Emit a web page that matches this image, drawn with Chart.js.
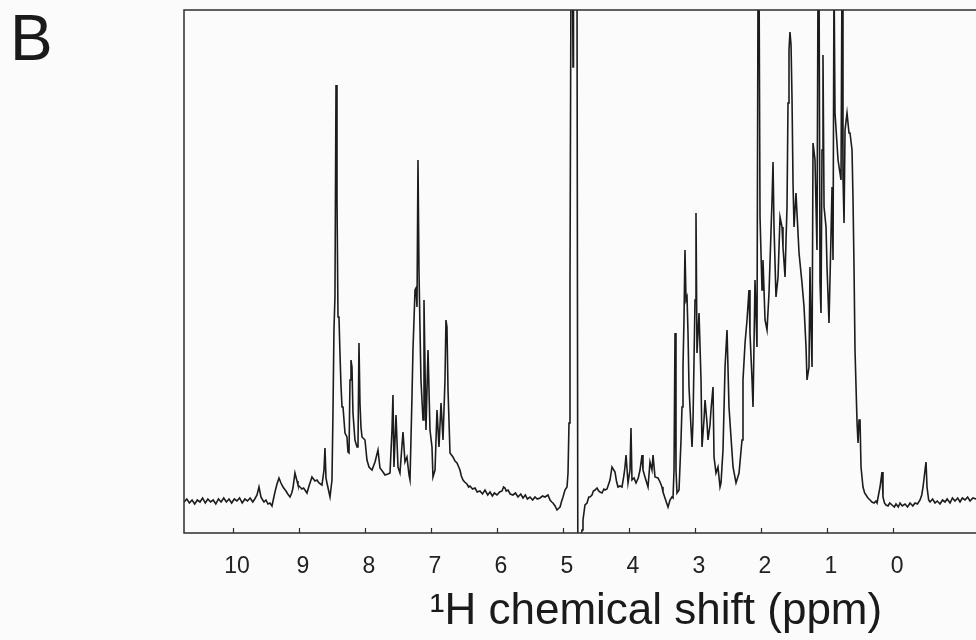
<!DOCTYPE html>
<html>
<head>
<meta charset="utf-8">
<script src="https://cdn.jsdelivr.net/npm/chart.js@4/dist/chart.umd.min.js"></script>
<style>
  html, body { margin:0; padding:0; background:#fbfbfb; overflow:hidden; }
  #wrap { position:relative; width:976px; height:640px; overflow:hidden; background:#fbfbfb; }
  #panel { position:absolute; left:10px; top:6px; font-family:"Liberation Sans", Arial, sans-serif; font-size:64px; line-height:64px; color:#1a1a1a; }
  canvas { position:absolute; left:0; top:0; }
</style>
</head>
<body>
<div id="wrap">
  <canvas id="c" width="1130" height="640"></canvas>
  <div id="panel">B</div>
</div>
<script>
// ppm, intensity (a.u.)
const downfield = [[10.74,31],[10.70,34],[10.66,30],[10.62,33],[10.58,29],[10.54,33],[10.50,31],[10.46,35],[10.42,30],[10.38,34],[10.34,31],[10.30,33],[10.26,29],[10.22,34],[10.18,31],[10.14,35],[10.10,31],[10.06,34],[10.02,30],[9.98,34],[9.94,32],[9.90,35],[9.86,30],[9.82,34],[9.78,32],[9.74,35],[9.70,31],[9.67,34],[9.636,38],[9.606,46],[9.576,36],[9.55,33],[9.53,31],[9.50,33],[9.47,29],[9.44,30],[9.409,27],[9.364,41],[9.333,49],[9.303,55],[9.273,50],[9.242,46],[9.22,44],[9.197,42],[9.17,39],[9.136,36],[9.11,40],[9.091,45],[9.061,60],[9.030,52],[9.015,48],[8.985,46],[8.955,44],[8.93,45],[8.909,43],[8.879,40],[8.848,47],[8.803,56],[8.758,52],[8.727,53],[8.697,50],[8.652,48],[8.621,63],[8.606,85],[8.591,55],[8.576,50],[8.530,36],[8.500,53]];
const aromatic = [[8.485,120],[8.470,203],[8.455,236],[8.439,448],[8.424,333],[8.409,216],[8.394,216],[8.379,180],[8.364,148],[8.348,126],[8.333,126],[8.303,100],[8.273,96],[8.258,81],[8.242,80],[8.227,153],[8.212,173],[8.197,166],[8.182,120],[8.152,93],[8.121,86],[8.106,86],[8.091,190],[8.076,130],[8.061,106],[8.045,96],[8.000,93],[7.970,73],[7.939,66],[7.894,63],[7.848,71],[7.803,83],[7.773,65],[7.727,61],[7.697,58],[7.652,59],[7.621,60],[7.591,103],[7.576,138],[7.561,66],[7.530,118],[7.500,66],[7.470,60],[7.439,88],[7.424,101],[7.394,71],[7.364,76],[7.333,58],[7.318,53],[7.288,136],[7.273,183],[7.242,243],[7.227,245],[7.212,226],[7.197,373],[7.182,263],[7.167,206],[7.152,153],[7.121,113],[7.106,233],[7.076,103],[7.045,183],[7.015,103],[6.985,86],[6.970,56],[6.939,63],[6.909,123],[6.879,86],[6.848,130],[6.818,93],[6.788,153],[6.773,213],[6.758,206],[6.742,143],[6.712,80],[6.667,76],[6.636,72],[6.606,70],[6.58,66],[6.561,63],[6.54,57],[6.515,53],[6.49,51],[6.455,49],[6.43,46],[6.409,47],[6.37,44],[6.333,45],[6.30,41],[6.258,42],[6.22,39],[6.182,43],[6.14,38],[6.106,41],[6.07,37],[6.04,40]];
const waterRegion = [[6.000,38],[5.96,41],[5.924,42],[5.90,46],[5.879,45],[5.86,42],[5.833,43],[5.80,39],[5.758,38],[5.72,40],[5.682,36],[5.64,39],[5.606,35],[5.57,38],[5.54,34],[5.500,36],[5.46,33],[5.424,36],[5.39,34],[5.348,35],[5.31,37],[5.273,36],[5.227,38],[5.197,33],[5.17,31],[5.152,30],[5.12,27],[5.091,23],[5.06,25],[5.045,26],[5.02,32],[5.000,36],[4.970,43],[4.939,46],[4.924,60],[4.909,110],[4.894,250],[4.879,560],[4.856,560],[4.848,466],[4.841,560],[4.788,560],[4.775,-40],[4.742,-12],[4.712,3],[4.697,13]];
const alphaRegion = [[4.667,28],[4.636,30],[4.61,36],[4.591,36],[4.561,38],[4.54,42],[4.515,43],[4.485,45],[4.46,42],[4.439,41],[4.409,40],[4.38,44],[4.364,43],[4.333,44],[4.288,53],[4.258,66],[4.212,61],[4.19,52],[4.167,46],[4.136,47],[4.106,46],[4.076,58],[4.061,66],[4.045,78],[4.015,50],[3.985,63],[3.970,105],[3.955,53],[3.924,55],[3.894,50],[3.86,55],[3.833,63],[3.803,78],[3.788,63],[3.758,56],[3.712,46],[3.682,71],[3.652,63],[3.636,78],[3.606,56],[3.561,55],[3.530,51],[3.50,46],[3.485,41],[3.455,35],[3.43,30],[3.409,26],[3.379,33],[3.35,36],[3.333,35]];
const betaRegion = [[3.318,63],[3.303,200],[3.288,63],[3.273,40],[3.242,43],[3.212,93],[3.197,126],[3.182,166],[3.167,213],[3.152,283],[3.136,233],[3.121,236],[3.106,200],[3.091,146],[3.061,106],[3.045,86],[3.030,113],[3.015,173],[3.000,233],[2.985,320],[2.970,180],[2.939,220],[2.909,153],[2.894,86],[2.864,113],[2.848,133],[2.818,110],[2.803,93],[2.773,108],[2.758,123],[2.727,146],[2.712,76],[2.682,60],[2.652,66],[2.621,46],[2.606,50],[2.576,83],[2.545,166],[2.515,203],[2.485,126],[2.455,96],[2.424,66],[2.379,50],[2.333,60],[2.288,93],[2.273,153],[2.242,190],[2.212,213],[2.182,243],[2.167,200],[2.136,153],[2.121,126],[2.091,253],[2.061,186]];
const aliphatic = [[2.045,560],[2.030,560],[2.015,316],[1.985,243],[1.970,273],[1.939,213],[1.909,203],[1.879,240],[1.848,303],[1.833,333],[1.818,371],[1.803,306],[1.773,236],[1.742,256],[1.712,316],[1.682,306],[1.667,286],[1.636,256],[1.621,293],[1.606,326],[1.591,430],[1.576,483],[1.561,501],[1.545,488],[1.530,433],[1.515,350],[1.500,306],[1.470,340],[1.455,320],[1.424,280],[1.379,250],[1.348,226],[1.318,186],[1.303,153],[1.273,166],[1.258,266],[1.242,203],[1.227,166],[1.212,390],[1.182,373],[1.152,283],[1.136,560],[1.121,560],[1.106,250],[1.091,220],[1.076,383],[1.061,478],[1.045,326],[1.015,306],[1.000,266],[0.970,210],[0.939,300],[0.924,346],[0.909,273],[0.894,560],[0.879,420],[0.833,373],[0.788,353],[0.773,560],[0.758,356],[0.742,310],[0.727,403],[0.697,420],[0.667,400],[0.652,400],[0.621,383],[0.606,333],[0.591,266],[0.576,183],[0.545,110],[0.530,90],[0.515,113],[0.500,113],[0.485,66],[0.455,46]];
const upfield = [[0.43,40],[0.409,38],[0.38,35],[0.348,33],[0.32,31],[0.288,30],[0.26,32],[0.242,30],[0.22,38],[0.197,46],[0.167,61],[0.152,36],[0.13,30],[0.106,28],[0.076,27],[0.05,30],[0.015,28],[-0.02,26],[-0.045,29],[-0.08,26],[-0.106,30],[-0.14,27],[-0.182,29],[-0.22,26],[-0.258,30],[-0.30,27],[-0.333,30],[-0.37,29],[-0.409,33],[-0.435,38],[-0.455,46],[-0.485,63],[-0.500,71],[-0.515,46],[-0.54,33],[-0.561,31],[-0.60,34],[-0.636,30],[-0.67,32],[-0.712,29],[-0.75,33],[-0.788,31],[-0.82,34],[-0.864,30],[-0.90,35],[-0.939,32],[-0.98,35],[-1.015,31],[-1.05,35],[-1.091,33],[-1.13,36],[-1.167,32],[-1.21,35],[-1.26,34],[-1.30,33]];

const tickValues = [10, 9, 8, 7, 6, 5, 4, 3, 2, 1, 0];
const axisTitle = '\u00B9H chemical shift (ppm)';

const spectrum = [].concat(downfield, aromatic, waterRegion, alphaRegion, betaRegion, aliphatic, upfield)
  .map(p => ({x: p[0], y: p[1]}));

const framePlugin = {
  id: 'frame',
  afterDatasetsDraw(chart) {
    const {ctx, chartArea: {left, top, right, bottom}, scales: {x}} = chart;
    ctx.save();
    ctx.strokeStyle = '#2e2e2e';
    ctx.lineWidth = 1.5;
    ctx.strokeRect(left, top, right - left, bottom - top);
    ctx.lineWidth = 1.2;
    x.ticks.forEach(t => {
      const px = Math.round(x.getPixelForValue(t.value)) + 0.5;
      ctx.beginPath(); ctx.moveTo(px, bottom); ctx.lineTo(px, bottom - 5); ctx.stroke();
    });
    ctx.restore();
  }
};

new Chart(document.getElementById('c'), {
  type: 'line',
  data: { datasets: [{
    data: spectrum,
    borderColor: '#1c1c1c',
    borderWidth: 1.6,
    pointRadius: 0,
    tension: 0,
    fill: false,
    clip: 0
  }]},
  options: {
    responsive: false,
    animation: false,
    devicePixelRatio: 1,
    layout: { padding: { left: 184, top: 10, right: 2, bottom: 0 } },
    plugins: { legend: { display: false }, tooltip: { enabled: false } },
    scales: {
      x: {
        type: 'linear',
        reverse: true,
        min: -3.56,
        max: 10.742,
        grid: { display: false, drawTicks: false },
        border: { display: false },
        afterBuildTicks: (scale) => { scale.ticks = tickValues.map(v => ({value: v})); },
        afterFit: (scale) => { scale.height = 107; },
        ticks: {
          padding: 20,
          labelOffset: 4,
          color: '#222',
          font: { family: '"Liberation Sans", Arial, sans-serif', size: 23 },
          callback: (v) => String(v)
        },
        title: {
          display: true,
          text: axisTitle,
          color: '#1a1a1a',
          font: { family: '"Liberation Sans", Arial, sans-serif', size: 44 },
          padding: { top: 0, bottom: 2 }
        }
      },
      y: { display: false, min: 0, max: 523 }
    }
  },
  plugins: [framePlugin]
});
</script>
</body>
</html>
